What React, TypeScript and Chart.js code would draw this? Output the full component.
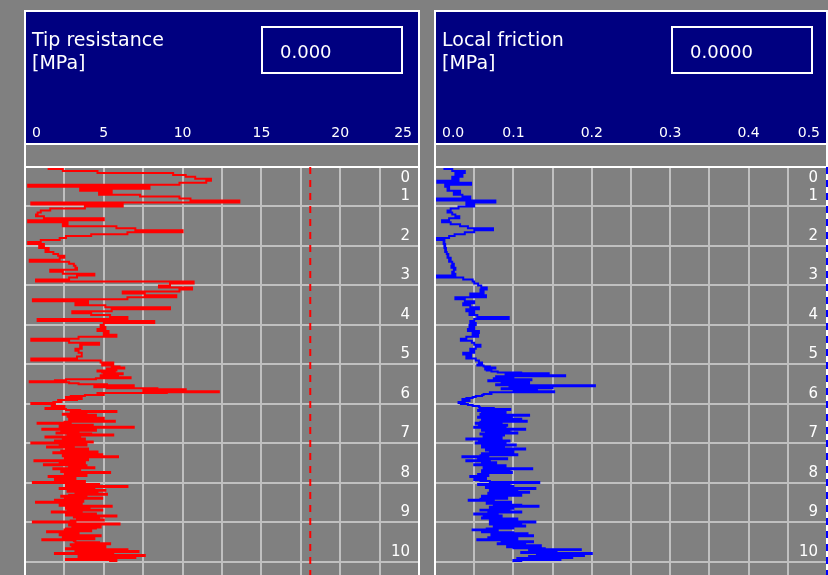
import { useEffect, useRef } from 'react';
import { Chart, registerables } from 'chart.js';

Chart.register(...registerables);

// ---------- data ----------
// Upper part of the sounding: one reading every 0.05 m from 0.00 to 4.95 m.
// Lower part: one reading every 0.025 m from 5.00 to 10.00 m.
const UPPER_START = 0;
const UPPER_STEP = 0.05;
const LOWER_START = 5;
const LOWER_STEP = 0.025;
const DEPTH_MAX = 10.33; // visible depth at the bottom of the window
const DEPTH_LABELS = ['0', '1', '2', '3', '4', '5', '6', '7', '8', '9', '10'];

// Tip resistance [MPa]
const TIP_UPPER = [
  0.5, 1.5, 2.4, 4.6, 9.4, 10.2, 10.8, 11.8, 11.5, 9.8, 0.2, 7.9, 3.5, 5.5, 4.7, 7.3, 9.8, 10.5, 13.6, 0.4,
  6.2, 3.8, 1.6, 1.0, 0.8, 0.7, 1.2, 5.0, 0.2, 2.7, 2.4, 5.8, 7.0, 10.0, 6.5, 4.2, 2.6, 2.2, 1.0, 0.2,
  1.2, 0.9, 1.5, 1.3, 1.8, 2.1, 2.5, 2.2, 0.3, 2.8, 3.1, 3.2, 3.3, 1.6, 2.4, 4.4, 3.3, 2.8, 0.7, 10.7,
  9.2, 8.5, 10.6, 9.8, 6.2, 7.6, 9.6, 6.5, 0.5, 4.0, 3.2, 5.1, 9.2, 5.5, 3.0, 4.2, 5.4, 6.5, 0.8, 8.2,
  5.0, 4.8, 5.1, 4.6, 5.3, 5.0, 5.8, 3.4, 0.4, 2.8, 4.7, 3.5, 3.6, 3.2, 3.4, 3.6, 3.6, 3.3, 0.4, 4.8,
];
const TIP_LOWER = [
  5.6, 4.9, 5.5, 6.0, 6.3, 5.2, 5.8, 4.6, 4.9, 5.7, 6.2, 5.0, 4.8, 5.9, 6.7, 4.5, 2.6, 1.9, 0.3, 2.8,
  3.4, 5.2, 6.9, 4.4, 5.2, 8.4, 10.2, 7.5, 12.3, 9.0, 4.6, 5.0, 3.8, 2.9, 2.6, 3.6, 3.3, 2.1, 2.3, 1.8,
  0.4, 1.9, 1.7, 2.5, 2.2, 1.3, 2.6, 3.5, 5.8, 2.9, 3.9, 2.4, 4.5, 2.7, 3.3, 5.0, 2.8, 4.2, 5.7, 2.5,
  0.8, 2.9, 4.3, 2.2, 6.9, 2.6, 1.1, 4.5, 3.4, 2.3, 2.0, 4.2, 5.6, 2.7, 1.3, 3.5, 3.8, 2.4, 1.9, 4.3,
  0.4, 2.6, 3.9, 2.2, 1.4, 3.1, 4.0, 2.6, 2.3, 4.6, 1.8, 3.0, 4.9, 2.4, 5.9, 2.9, 2.5, 4.0, 0.6, 2.2,
  3.8, 2.5, 1.2, 3.9, 2.8, 4.4, 1.8, 3.5, 3.2, 2.3, 5.4, 2.5, 2.6, 3.9, 1.5, 2.7, 3.2, 1.9, 2.3, 3.8,
  0.5, 2.9, 4.7, 2.6, 6.5, 3.0, 2.2, 4.4, 5.1, 2.7, 3.2, 4.6, 5.2, 2.8, 2.3, 3.9, 4.9, 2.5, 1.9, 3.7,
  0.7, 2.4, 3.6, 2.2, 5.5, 3.0, 2.6, 4.1, 4.9, 2.7, 1.7, 3.6, 4.5, 2.6, 5.8, 3.1, 3.3, 4.7, 5.0, 2.9,
  0.5, 3.2, 6.0, 2.8, 3.0, 4.8, 4.5, 2.6, 2.5, 4.2, 1.4, 3.3, 3.4, 2.2, 4.8, 3.0, 2.4, 4.4, 1.1, 3.1,
  3.2, 4.7, 5.4, 2.9, 3.0, 5.1, 4.3, 2.6, 6.5, 3.2, 7.2, 3.8, 1.9, 5.6, 7.6, 3.4, 7.0, 4.2, 2.6, 5.8,
  5.4,
];

// Local friction [MPa]
const FRICTION_UPPER = [
  0.004, 0.012, 0.022, 0.038, 0.026, 0.035, 0.022, 0.030, 0.003, 0.046, 0.013, 0.018, 0.016, 0.032, 0.024, 0.035, 0.045, 0.000, 0.077, 0.040,
  0.050, 0.030, 0.020, 0.016, 0.022, 0.026, 0.031, 0.018, 0.009, 0.020, 0.032, 0.042, 0.074, 0.050, 0.038, 0.025, 0.018, 0.000, 0.012, 0.011,
  0.013, 0.012, 0.014, 0.013, 0.015, 0.017, 0.016, 0.020, 0.018, 0.022, 0.024, 0.021, 0.026, 0.024, 0.022, 0.026, 0.002, 0.036, 0.048, 0.050,
  0.055, 0.059, 0.066, 0.058, 0.062, 0.045, 0.065, 0.026, 0.038, 0.050, 0.036, 0.045, 0.056, 0.040, 0.050, 0.044, 0.054, 0.094, 0.050, 0.045,
  0.052, 0.044, 0.050, 0.042, 0.056, 0.048, 0.055, 0.040, 0.033, 0.047, 0.050, 0.058, 0.052, 0.045, 0.050, 0.036, 0.046, 0.040, 0.052, 0.056,
];
const FRICTION_LOWER = [
  0.060, 0.054, 0.062, 0.070, 0.077, 0.064, 0.066, 0.072, 0.080, 0.110, 0.145, 0.090, 0.166, 0.078, 0.100, 0.075, 0.123, 0.068, 0.085, 0.120,
  0.112, 0.078, 0.204, 0.095, 0.150, 0.085, 0.100, 0.130, 0.152, 0.070, 0.072, 0.062, 0.060, 0.052, 0.048, 0.040, 0.035, 0.044, 0.038, 0.030,
  0.033, 0.042, 0.048, 0.056, 0.057, 0.075, 0.096, 0.055, 0.060, 0.090, 0.078, 0.058, 0.120, 0.062, 0.055, 0.098, 0.110, 0.060, 0.117, 0.058,
  0.052, 0.085, 0.092, 0.056, 0.050, 0.090, 0.115, 0.060, 0.065, 0.095, 0.105, 0.058, 0.088, 0.070, 0.062, 0.085, 0.040, 0.070, 0.095, 0.056,
  0.052, 0.090, 0.103, 0.060, 0.060, 0.088, 0.115, 0.065, 0.080, 0.100, 0.070, 0.060, 0.105, 0.058, 0.035, 0.068, 0.092, 0.055, 0.040, 0.070,
  0.078, 0.060, 0.050, 0.090, 0.085, 0.062, 0.124, 0.066, 0.060, 0.095, 0.098, 0.060, 0.055, 0.068, 0.045, 0.060, 0.065, 0.050, 0.058, 0.070,
  0.133, 0.070, 0.055, 0.095, 0.100, 0.065, 0.128, 0.075, 0.070, 0.105, 0.120, 0.068, 0.085, 0.110, 0.060, 0.078, 0.092, 0.058, 0.043, 0.075,
  0.097, 0.066, 0.075, 0.110, 0.132, 0.070, 0.100, 0.075, 0.058, 0.095, 0.110, 0.068, 0.050, 0.080, 0.085, 0.062, 0.060, 0.105, 0.090, 0.070,
  0.128, 0.072, 0.070, 0.110, 0.115, 0.075, 0.100, 0.066, 0.048, 0.080, 0.060, 0.100, 0.118, 0.072, 0.125, 0.080, 0.068, 0.105, 0.054, 0.090,
  0.125, 0.085, 0.080, 0.115, 0.135, 0.092, 0.100, 0.140, 0.186, 0.120, 0.155, 0.110, 0.200, 0.130, 0.190, 0.120, 0.175, 0.105, 0.160, 0.100,
  0.110,
];

const TIP_LABELS = ['0', '5', '10', '15', '20', '25'];
const FRICTION_LABELS = ['0.0', '0.1', '0.2', '0.3', '0.4', '0.5'];
const TIP_LIMIT = 18.1;
const FRICTION_LIMIT = 0.5;

// ---------- styling ----------
const FONT = 'DejaVu Sans';
const NAVY = '#000080';
const GRAY = '#808080';
const GRID = '#c0c0c0';
const WHITE = '#ffffff';
const PLOT_TOP = 167;

type PanelSpec = {
  title: string;
  unit: string;
  reading: string;
  upper: number[];
  lower: number[];
  max: number;
  step: number;
  labels: string[];
  color: string;
  limit: number;
  padLeft: number;
  padRight: number;
};

function panelPlugin(p: PanelSpec) {
  return {
    id: 'cptPanel',
    beforeDraw(chart: any) {
      const { ctx, chartArea } = chart;
      const l = chartArea.left;
      const r = chartArea.right;
      ctx.save();
      ctx.fillStyle = NAVY;
      ctx.fillRect(l, 11, r - l, 133);
      ctx.fillStyle = WHITE;
      ctx.textAlign = 'left';
      ctx.textBaseline = 'alphabetic';
      ctx.font = `19px "${FONT}"`;
      ctx.fillText(p.title, l + 7, 46);
      ctx.fillText(p.unit, l + 7, 69);
      ctx.strokeStyle = WHITE;
      ctx.lineWidth = 2;
      ctx.strokeRect(l + 237, 27, 140, 46);
      ctx.font = `18px "${FONT}"`;
      ctx.fillText(p.reading, l + 255, 58);
      ctx.restore();
    },
    afterDraw(chart: any) {
      const { ctx, chartArea, scales } = chart;
      const l = chartArea.left;
      const r = chartArea.right;
      const b = chartArea.bottom;
      ctx.save();
      ctx.fillStyle = WHITE;
      ctx.fillRect(l - 1, 10, 2, b - 10);
      ctx.fillRect(r - 1, 10, 2, b - 10);
      ctx.fillRect(l - 1, 10, r - l + 2, 2);
      ctx.fillRect(l - 1, 143, r - l + 2, 2);
      ctx.fillRect(l - 1, 166, r - l + 2, 2);
      const lx = scales.x.getPixelForValue(p.limit);
      ctx.strokeStyle = p.color;
      ctx.lineWidth = 2;
      ctx.setLineDash([7, 6]);
      ctx.beginPath();
      ctx.moveTo(lx, chartArea.top);
      ctx.lineTo(lx, b);
      ctx.stroke();
      ctx.restore();
    },
  };
}

function makeConfig(p: PanelSpec): any {
  const points = [
    ...p.upper.map((v, i) => ({ x: v, y: UPPER_START + i * UPPER_STEP })),
    ...p.lower.map((v, i) => ({ x: v, y: LOWER_START + i * LOWER_STEP })),
  ];
  const depthTicks = (extra: any) => ({
    stepSize: 1,
    includeBounds: false,
    mirror: true,
    padding: -9,
    autoSkip: false,
    color: WHITE,
    font: { family: FONT, size: 15 },
    ...extra,
  });
  const flatY = (s: any) => {
    s.width = 0;
    s.paddingTop = 0;
    s.paddingBottom = 0;
    s.paddingLeft = 0;
    s.paddingRight = 0;
  };
  return {
    type: 'scatter',
    data: {
      datasets: [
        {
          data: points,
          xAxisID: 'x',
          yAxisID: 'y',
          showLine: true,
          stepped: true,
          borderColor: p.color,
          backgroundColor: p.color,
          borderWidth: 2,
          pointRadius: 0,
          pointHoverRadius: 0,
          fill: false,
        },
      ],
    },
    options: {
      animation: false,
      responsive: false,
      maintainAspectRatio: false,
      events: [],
      layout: { padding: { left: p.padLeft, right: p.padRight, top: 0, bottom: 0 } },
      plugins: { legend: { display: false }, tooltip: { enabled: false } },
      scales: {
        x: {
          type: 'linear',
          position: 'top',
          min: 0,
          max: p.max,
          ticks: {
            stepSize: p.step,
            autoSkip: false,
            maxRotation: 0,
            minRotation: 0,
            align: 'inner',
            padding: 25,
            color: WHITE,
            font: { family: FONT, size: 14 },
            callback: (_v: any, i: number, ticks: any[]) => {
              if (i % 2 !== 0) return '';
              const lbl = p.labels[i / 2] ?? '';
              if (i === 0) return '\u2002' + lbl;
              if (i === ticks.length - 1) return lbl + '\u2002';
              return lbl;
            },
          },
          grid: { color: GRID, lineWidth: 2, drawTicks: false },
          border: { display: false },
          afterFit: (s: any) => {
            s.height = PLOT_TOP;
            s.paddingLeft = 0;
            s.paddingRight = 0;
            s.paddingTop = 0;
            s.paddingBottom = 0;
          },
        },
        y: {
          type: 'linear',
          axis: 'y',
          position: 'right',
          reverse: true,
          min: 0,
          max: DEPTH_MAX,
          ticks: depthTicks({
            labelOffset: -10,
            callback: (v: any) => (v === 0 ? '' : DEPTH_LABELS[Math.round(v)] ?? ''),
          }),
          grid: { color: GRID, lineWidth: 2, drawTicks: false },
          border: { display: false },
          afterFit: flatY,
        },
        y0: {
          type: 'linear',
          axis: 'y',
          position: 'right',
          reverse: true,
          min: 0,
          max: DEPTH_MAX,
          ticks: depthTicks({
            labelOffset: 11,
            callback: (v: any) => (v === 0 ? DEPTH_LABELS[0] : ''),
          }),
          grid: { display: false, drawTicks: false },
          border: { display: false },
          afterFit: flatY,
        },
      },
    },
    plugins: [panelPlugin(p)],
  };
}

const LEFT_PANEL: PanelSpec = {
  title: 'Tip resistance',
  unit: '[MPa]',
  reading: '0.000',
  upper: TIP_UPPER,
  lower: TIP_LOWER,
  max: 25,
  step: 2.5,
  labels: TIP_LABELS,
  color: '#ff0000',
  limit: TIP_LIMIT,
  padLeft: 25,
  padRight: 2,
};

const RIGHT_PANEL: PanelSpec = {
  title: 'Local friction',
  unit: '[MPa]',
  reading: '0.0000',
  upper: FRICTION_UPPER,
  lower: FRICTION_LOWER,
  max: 0.5,
  step: 0.05,
  labels: FRICTION_LABELS,
  color: '#0000ff',
  limit: FRICTION_LIMIT,
  padLeft: 14,
  padRight: 1,
};

export default function App() {
  const leftRef = useRef<HTMLCanvasElement | null>(null);
  const rightRef = useRef<HTMLCanvasElement | null>(null);

  useEffect(() => {
    const charts: Chart[] = [];
    if (leftRef.current) charts.push(new Chart(leftRef.current, makeConfig(LEFT_PANEL)));
    if (rightRef.current) charts.push(new Chart(rightRef.current, makeConfig(RIGHT_PANEL)));
    return () => {
      charts.forEach((c) => c.destroy());
    };
  }, []);

  return (
    <div
      style={{
        position: 'fixed',
        left: 0,
        top: 0,
        width: 828,
        height: 575,
        overflow: 'hidden',
        background: GRAY,
      }}
    >
      <canvas
        ref={leftRef}
        width={421}
        height={575}
        style={{ position: 'absolute', left: 0, top: 0, width: 421, height: 575 }}
      />
      <canvas
        ref={rightRef}
        width={407}
        height={575}
        style={{ position: 'absolute', left: 421, top: 0, width: 407, height: 575 }}
      />
    </div>
  );
}
